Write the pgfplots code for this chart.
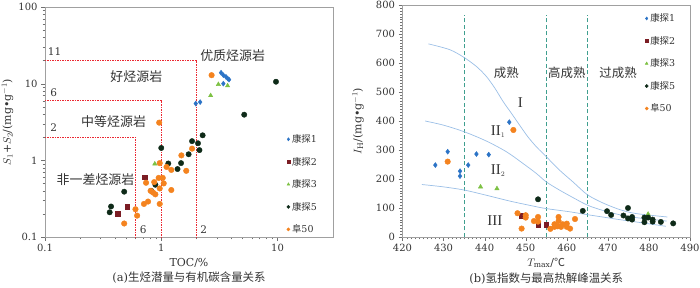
\documentclass[border=0pt]{standalone}
\usepackage{fontspec}
\setmainfont{DejaVu Serif}
\newfontfamily\cjk{Noto Sans CJK SC}
\newfontfamily\tnr{Liberation Serif}
\usepackage{pgfplots}
\pgfplotsset{compat=1.18}
\definecolor{cBlue}{HTML}{2B73C6}
\definecolor{cRed}{HTML}{7B1D24}
\definecolor{cGreen}{HTML}{7DC143}
\definecolor{cBlack}{HTML}{0E2A18}
\definecolor{cOrange}{HTML}{F4831F}
\definecolor{cTeal}{HTML}{3F9F8F}
\definecolor{cCurve}{HTML}{9BBFE6}
\definecolor{cDot}{RGB}{235,40,50}
\definecolor{framegray}{HTML}{A0A0A0}
\definecolor{tickgray}{HTML}{707070}
\definecolor{txt}{HTML}{333333}
\pgfplotsset{
  base/.style={
    scale only axis,
    axis line style={draw=framegray},
    tick style={draw=tickgray},
    tick align=outside, tick pos=left,
    major tick length=4bp, minor tick length=2.5bp,
    tick label style={font=\fontsize{10}{12}\selectfont, text=txt},
    /pgf/number format/assume math mode=true,
    label style={font=\fontsize{11}{13}\selectfont, text=txt},
    clip=false,
    legend cell align=left,
    legend style={draw=none, fill=none, inner sep=0pt, font=\fontsize{9.5}{11}\selectfont, text=txt, row sep=9bp},
    legend image post style={mark size=1.6bp},
  },
  sBlue/.style={only marks, mark=diamond*, mark size=2.5bp, color=cBlue},
  sRed/.style={only marks, mark=square*, mark size=2.3bp, color=cRed},
  sGreen/.style={only marks, mark=triangle*, mark size=2.5bp, color=cGreen},
  sBlack/.style={only marks, mark=*, mark size=2.7bp, color=cBlack},
  sOrange/.style={only marks, mark=*, mark size=2.8bp, color=cOrange},
  redline/.style={forget plot, draw=cDot, color=cDot, line width=1bp, dash pattern=on 1.3bp off 1.2bp},
}
\begin{document}
\begin{tikzpicture}
\useasboundingbox (0bp,0bp) rectangle (700bp,288bp);
% ---------------- panel (a)
\begin{axis}[base,
  at={(45bp,51bp)}, anchor=south west,
  width=288bp, height=230bp,
  xmode=log, ymode=log,
  xmin=0.1, xmax=30, ymin=0.1, ymax=100,
  log ticks with fixed point,
  xlabel={TOC/\%},
  ylabel={$S_1$+$S_2$/(mg•g$^{-1}$)},
  xlabel style={at={(axis description cs:0.5,-0.113)}, anchor=center},
  ylabel style={at={(axis description cs:-0.13,0.5)}, anchor=center},
  legend style={at={(axis description cs:0.839,0.455)}, anchor=north west},
]
\addplot[redline] coordinates {(0.1,2) (0.6,2) (0.6,0.1)};
\addplot[redline] coordinates {(0.1,6) (1,6) (1,0.1)};
\addplot[redline] coordinates {(0.1,20) (2,20) (2,0.1)};
\addplot[sBlue] coordinates {(3.27,13.9) (3.42,12.9) (3.6,12.3) (3.72,11.7) (3.83,11.3) (3.42,10.0) (1.98,5.5) (2.16,5.75)};
\addlegendentry{{\cjk 康探}1}
\addplot[sRed] coordinates {(0.72,0.60) (0.51,0.25) (0.42,0.20)};
\addlegendentry{{\cjk 康探}2}
\addplot[sGreen] coordinates {(3.1,9.8) (3.72,9.4) (2.66,7.0) (0.88,0.9)};
\addlegendentry{{\cjk 康探}3}
\addplot[sBlack] coordinates {(9.7,10.6) (5.17,3.94) (2.27,2.12) (1.84,1.78) (2.07,1.67) (2.13,1.36) (1.0,1.45) (1.72,1.2) (1.15,0.91) (1.48,0.92) (1.38,0.77) (0.89,0.48) (0.82,0.40) (0.48,0.39) (0.37,0.25) (0.36,0.21)};
\addlegendentry{{\cjk 康探}5}
\addplot[sOrange] coordinates {(2.71,12.9) (0.96,3.1) (1.84,1.42) (1.49,1.16) (0.97,0.92) (1.11,0.82) (1.22,0.75) (1.64,0.73) (0.74,0.51) (0.95,0.59) (1.03,0.59) (0.87,0.52) (1.05,0.50) (0.97,0.43) (0.81,0.40) (0.85,0.38) (0.89,0.36) (1.22,0.41) (0.77,0.29) (0.71,0.27) (0.97,0.27) (0.60,0.23) (0.62,0.19) (0.48,0.15)};
\addlegendentry{{\cjk 阜}50}
\begin{scope}[every node/.style={font=\cjk\fontsize{13}{15}\selectfont, text=txt}]
\node at (axis cs:4.11,22.9) {优质烃源岩};
\node at (axis cs:0.611,12.27) {好烃源岩};
\node at (axis cs:0.389,3.25) {中等烃源岩};
\node at (axis cs:0.272,0.557) {非一差烃源岩};
\end{scope}
\begin{scope}[every node/.style={font=\fontsize{10.5}{12}\selectfont, text=txt}]
\node at (axis cs:0.121,26.0) {11};
\node at (axis cs:0.119,7.6) {6};
\node at (axis cs:0.119,2.65) {2};
\node at (axis cs:0.70,0.126) {6};
\node at (axis cs:2.32,0.126) {2};
\end{scope}
\node[font=\fontsize{11.5}{13}\selectfont, text=txt] at (axis description cs:0.5,-0.178) {(a){\cjk 生烃潜量与有机碳含量关系}};
\end{axis}
% ---------------- panel (b)
\begin{axis}[base,
  at={(402.5bp,51bp)}, anchor=south west,
  width=287.5bp, height=232bp,
  xmin=420, xmax=490, ymin=0, ymax=800,
  xtick={420,430,...,490}, ytick={0,100,...,800},
  minor x tick num=9, minor y tick num=9,
  xlabel={$T_{\mathrm{max}}$/{\cjk ℃}},
  ylabel={$I_{\mathrm{H}}$/(mg•g$^{-1}$)},
  xlabel style={at={(axis description cs:0.5,-0.112)}, anchor=center},
  ylabel style={at={(axis description cs:-0.155,0.5)}, anchor=center},
  legend style={at={(axis description cs:0.843,0.972)}, anchor=north west},
]
\addplot[forget plot, cTeal, line width=0.7bp, dash pattern=on 4bp off 2.5bp] coordinates {(435,0) (435,767)};
\addplot[forget plot, cTeal, line width=0.7bp, dash pattern=on 4bp off 2.5bp] coordinates {(455,0) (455,767)};
\addplot[forget plot, cTeal, line width=0.7bp, dash pattern=on 4bp off 2.5bp] coordinates {(465,0) (465,767)};
\addplot[forget plot, cCurve, line width=0.7bp, smooth] coordinates {(426.3,666) (431.5,646) (435,619) (438,588) (440.4,554) (442.5,513) (444.5,467) (446.5,427) (448.5,386) (450.5,346) (452.6,311) (455,277) (458.2,231) (461.5,190) (465,146) (468.7,118) (472.8,95) (476.8,81) (484.5,69)};
\addplot[forget plot, cCurve, line width=0.7bp, smooth] coordinates {(425.5,400) (429.9,386) (435,363) (440.4,331) (445.3,294) (449.3,254) (452.6,219) (455,190) (458.2,162) (461.5,136) (465,110) (468.7,92) (472.8,77) (476.8,67) (484.3,55)};
\addplot[forget plot, cCurve, line width=0.7bp, smooth] coordinates {(424.7,181) (429.9,173) (435,162) (440.4,144) (446.1,124) (451.7,107) (455,98) (460.7,87) (465,77) (468.7,69) (472.8,60) (476.8,52) (484.1,37)};
\addplot[sBlue] coordinates {(428,248) (431,294) (434,227) (434,210) (436,248) (438,286) (441,284) (446,396)};
\addlegendentry{{\cjk 康探}1}
\addplot[sRed] coordinates {(449,73) (453,42) (455,42)};
\addlegendentry{{\cjk 康探}2}
\addplot[sGreen] coordinates {(439,173) (443,167) (479.8,79)};
\addlegendentry{{\cjk 康探}3}
\addplot[sBlack] coordinates {(453,130) (463.9,90) (469.8,89) (470.8,76) (473.8,74) (474.9,100) (474.9,64) (475.9,69) (475.9,60) (478.9,67) (478.9,51) (479.8,67) (480.9,60) (480.9,53) (482.9,52) (485.9,47)};
\addlegendentry{{\cjk 康探}5}
\addplot[sOrange] coordinates {(431,260) (447,369) (448,82) (450,75) (450,67) (449,29) (452,55) (453,69) (453,53) (456,28) (457,44) (458,69) (458,55) (457.8,37) (459,44) (460,46) (460,35) (460.8,29) (462,62) (457,35) (458.6,35)};
\addlegendentry{{\cjk 阜}50}
\begin{scope}[every node/.style={font=\cjk\fontsize{12.5}{14}\selectfont, text=txt}]
\node at (axis cs:445.3,565) {成熟};
\node at (axis cs:460,565) {高成熟};
\node at (axis cs:472.5,565) {过成熟};
\end{scope}
\begin{scope}[every node/.style={font=\tnr\fontsize{15}{17}\selectfont, text=txt}]
\node at (axis cs:448.7,464) {I};
\node at (axis cs:443.3,363) {II$_{\scriptscriptstyle 1}$};
\node at (axis cs:443.3,230) {II$_{\scriptscriptstyle 2}$};
\node at (axis cs:442.5,58) {III};
\end{scope}
\node[font=\fontsize{11.5}{13}\selectfont, text=txt] at (axis description cs:0.5,-0.178) {(b){\cjk 氢指数与最高热解峰温关系}};
\end{axis}
\end{tikzpicture}
\end{document}
